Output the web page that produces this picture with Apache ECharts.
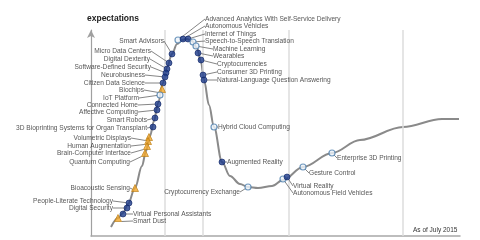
<!DOCTYPE html>
<html><head><meta charset="utf-8">
<script src="https://cdn.jsdelivr.net/npm/echarts@6/dist/echarts.min.js"></script>
<style>html,body{margin:0;padding:0;background:#fff}#c{width:480px;height:240px}</style>
</head><body><div id="c"></div>
<script>
// Hype curve (time vs expectations)
const curveTime = [20,27,32,37,44,51,55,59,63,67,72,76,81,86,91,96,101,106,110,113,118,123,131,139,149,157,167,181,192,212,241,269,312,351,368];
const curveExp  = [9,18,23,32,48,70,85,100,115,133,153,169,182,192,196,197,195,188,174,156,131,109,74,60,52,49,48,50,56,69,83,96,109,117,117];
// Technologies: kind 0 = dot, 1 = open circle, 2 = triangle
const techNames = ["Advanced Analytics With Self-Service Delivery","Autonomous Vehicles","Internet of Things","Speech-to-Speech Translation","Machine Learning","Wearables","Cryptocurrencies","Consumer 3D Printing","Natural-Language Question Answering",
 "Smart Advisors","Micro Data Centers","Digital Dexterity","Software-Defined Security","Neurobusiness","Citizen Data Science","Biochips","IoT Platform","Connected Home","Affective Computing","Smart Robots","3D Bioprinting Systems for Organ Transplant","Volumetric Displays","Human Augmentation","Brain-Computer Interface","Quantum Computing","Bioacoustic Sensing","People-Literate Technology","Digital Security","Virtual Personal Assistants","Smart Dust",
 "Hybrid Cloud Computing","Augmented Reality","Cryptocurrency Exchange","Autonomous Field Vehicles","Virtual Reality","Gesture Control","Enterprise 3D Printing"];
const techTime = [87,92,97,102,105,107,110,112,113, 81,78,76,75,74,72,71,69,67,66,64,62,58,57,56,54,44,38,36,32,27, 123,131,157,192,196,212,241];
const techExp  = [196,197,197,194,190,183,176,161,156, 182,173,167,163,159,153,147,141,132,126,118,109,99,95,90,83,48,33,28,22,18, 109,74,49,57,59,69,83];
const techKind = [1,0,0,1,1,0,0,0,0, 0,0,0,0,0,0,2,1,0,0,0,0,2,2,2,2,2,0,0,0,2, 1,0,1,1,0,1,1];
const phaseBounds = [74,112,198,312];
const asOfText = "As of July 2015";
const yTitle = "expectations";

// label placement (pixel anchor, alignment)
const labelPlace = [[205,19,'left'],[205,26,'left'],[205,34,'left'],[205,41,'left'],[213,49,'left'],[213,56,'left'],[217,64,'left'],[217,72,'left'],[217,80,'left'],
 [164,41,'right'],[151,51,'right'],[150,59,'right'],[151,67,'right'],[145,75,'right'],[145,83,'right'],[144,90,'right'],[139,98,'right'],[138,105,'right'],[138,112,'right'],[147,120,'right'],[147,128,'right'],[131,138,'right'],[131,146,'right'],[131,153,'right'],[130,162,'right'],[130,188,'right'],[113,201,'right'],[113,208,'right'],[133,214,'left'],[133,221,'left'],
 [218,127,'left'],[227,162,'left'],[240,192,'right'],[293,193,'left'],[293,186,'left'],[309,173,'left'],[337,158,'left']];

const kindStyle = [
  {symbol:'circle', symbolSize:6, itemStyle:{color:'#1b3a8a', borderColor:'#0f2566', borderWidth:0.8}},
  {symbol:'circle', symbolSize:6, itemStyle:{color:'#eef4fa', borderColor:'#4f7fae', borderWidth:1.2}},
  {symbol:'triangle', symbolSize:7, itemStyle:{color:'#f2a629', borderColor:'#b8790e', borderWidth:0.8}}
];

const techData = techNames.map((n,i)=>Object.assign({name:n, value:[techTime[i], techExp[i]]}, kindStyle[techKind[i]]));

const chart = echarts.init(document.getElementById('c'), null, {renderer:'canvas'});
chart.setOption({
  animation:false,
  textStyle:{fontFamily:'Liberation Sans, Arial, sans-serif'},
  title:[
    {text:yTitle, left:87, top:14, padding:0, textStyle:{fontSize:8.5, fontWeight:'bold', color:'#222', fontFamily:'Liberation Sans'}},
    {text:asOfText, left:413, top:227, padding:0, textStyle:{fontSize:6.5, fontWeight:'normal', color:'#333', fontFamily:'Liberation Sans'}}
  ],
  grid:{left:91, right:20, top:30, bottom:4},
  xAxis:{type:'value', min:0, max:369, axisLabel:{show:false}, axisTick:{show:false}, splitLine:{show:false},
    axisLine:{show:true, lineStyle:{color:'#a8a8a8', width:1.5}}},
  yAxis:{type:'value', min:0, max:206, axisLabel:{show:false}, axisTick:{show:false}, splitLine:{show:false},
    axisLine:{show:true, symbol:['none','arrow'], symbolSize:[6,8], lineStyle:{color:'#a0a0a0', width:1.2}}},
  series:[
    {type:'line', data:curveTime.map((t,i)=>[t,curveExp[i]]), smooth:0.35, smoothMonotone:'x', showSymbol:false,
     lineStyle:{color:'#8a8a8a', width:2}, z:2,
     markLine:{silent:true, symbol:'none', label:{show:false}, lineStyle:{color:'#dcdcdc', width:1.5, type:'solid'},
       data:phaseBounds.map(v=>({xAxis:v}))}},
    {type:'scatter', data:techData, z:5,
     label:{show:true, formatter:'{b}', fontSize:6.6, color:'#2a2a2a', fontFamily:'Liberation Sans'},
     labelLayout:function(p){const L=labelPlace[p.dataIndex];return {x:L[0], y:L[1], align:L[2], verticalAlign:'middle', hideOverlap:false};},
     labelLine:{show:true, lineStyle:{color:'#666', width:0.8}}}
  ]
});
</script></body></html>
